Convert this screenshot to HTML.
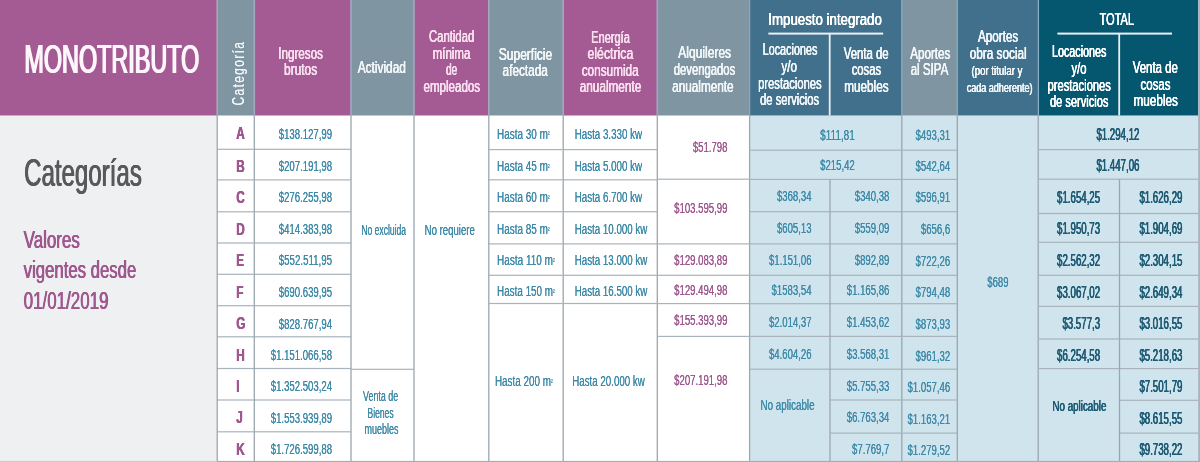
<!DOCTYPE html>
<html lang="es"><head><meta charset="utf-8"><title>Monotributo - Categorías</title>
<style>
html,body{margin:0;padding:0;background:#fff;}
body{width:1200px;height:462px;overflow:hidden;}
svg{display:block;will-change:transform;font-family:"Liberation Sans",sans-serif;}
svg text{white-space:pre;}
</style></head><body>
<svg role="img" aria-label="Monotributo: tabla de categorías" width="1200" height="462" viewBox="0 0 1200 462">
<rect x="0" y="0" width="1200" height="462" fill="#ffffff"/>
<rect x="0" y="115.5" width="217" height="346.5" fill="#eef0f2"/>
<rect x="749.5" y="115.5" width="450.5" height="346.5" fill="#d0e4ed"/>
<rect x="0" y="0" width="217.2" height="115.5" fill="#a45b93"/>
<rect x="217.2" y="0" width="37.1" height="115.5" fill="#7f95a2"/>
<rect x="254.3" y="0" width="96.7" height="115.5" fill="#a45b93"/>
<rect x="351" y="0" width="63" height="115.5" fill="#7f95a2"/>
<rect x="414" y="0" width="74.8" height="115.5" fill="#a45b93"/>
<rect x="488.8" y="0" width="74.4" height="115.5" fill="#7f95a2"/>
<rect x="563.2" y="0" width="94.1" height="115.5" fill="#a45b93"/>
<rect x="657.3" y="0" width="92.3" height="115.5" fill="#7f95a2"/>
<rect x="749.6" y="0" width="152.2" height="115.5" fill="#40708b"/>
<rect x="901.8" y="0" width="55.5" height="115.5" fill="#7f95a2"/>
<rect x="957.3" y="0" width="80.9" height="115.5" fill="#40708b"/>
<rect x="1038.2" y="0" width="160" height="115.5" fill="#05566f"/>
<rect x="216.4" y="0" width="1.6" height="115.5" fill="#a3a7c0"/>
<rect x="253.5" y="0" width="1.6" height="115.5" fill="#a3a7c0"/>
<rect x="350.2" y="0" width="1.6" height="115.5" fill="#a3a7c0"/>
<rect x="413.2" y="0" width="1.6" height="115.5" fill="#a3a7c0"/>
<rect x="488" y="0" width="1.6" height="115.5" fill="#a3a7c0"/>
<rect x="562.4" y="0" width="1.6" height="115.5" fill="#a3a7c0"/>
<rect x="656.5" y="0" width="1.6" height="115.5" fill="#a3a7c0"/>
<rect x="748.95" y="0" width="1.3" height="115.5" fill="#8aa7b8"/>
<rect x="901.15" y="0" width="1.3" height="115.5" fill="#8aa7b8"/>
<rect x="956.65" y="0" width="1.3" height="115.5" fill="#8aa7b8"/>
<rect x="1037.75" y="0" width="1.3" height="115.5" fill="#86afc8"/>
<rect x="1198.2" y="0" width="1.8" height="462" fill="#aab2c0"/>
<rect x="217.2" y="148.7" width="133.8" height="1.2" fill="#a8b3bb"/>
<rect x="217.2" y="179.3" width="133.8" height="1.2" fill="#a8b3bb"/>
<rect x="217.2" y="211.2" width="133.8" height="1.2" fill="#a8b3bb"/>
<rect x="217.2" y="242.4" width="133.8" height="1.2" fill="#a8b3bb"/>
<rect x="217.2" y="273.7" width="133.8" height="1.2" fill="#a8b3bb"/>
<rect x="217.2" y="305.1" width="133.8" height="1.2" fill="#a8b3bb"/>
<rect x="217.2" y="336.2" width="133.8" height="1.2" fill="#a8b3bb"/>
<rect x="217.2" y="367.9" width="133.8" height="1.2" fill="#a8b3bb"/>
<rect x="217.2" y="399.4" width="133.8" height="1.2" fill="#a8b3bb"/>
<rect x="217.2" y="431.2" width="133.8" height="1.2" fill="#a8b3bb"/>
<rect x="216.55" y="115.5" width="1.3" height="346.5" fill="#9ba6ae"/>
<rect x="253.65" y="115.5" width="1.3" height="346.5" fill="#9ba6ae"/>
<rect x="350.35" y="115.5" width="1.3" height="346.5" fill="#9ba6ae"/>
<rect x="413.35" y="115.5" width="1.3" height="346.5" fill="#9ba6ae"/>
<rect x="488.15" y="115.5" width="1.3" height="346.5" fill="#9ba6ae"/>
<rect x="562.55" y="115.5" width="1.3" height="346.5" fill="#9ba6ae"/>
<rect x="656.65" y="115.5" width="1.3" height="346.5" fill="#9ba6ae"/>
<rect x="748.95" y="115.5" width="1.3" height="346.5" fill="#9ba6ae"/>
<rect x="901.15" y="115.5" width="1.3" height="346.5" fill="#9ba6ae"/>
<rect x="956.65" y="115.5" width="1.3" height="346.5" fill="#9ba6ae"/>
<rect x="1037.55" y="115.5" width="1.3" height="346.5" fill="#9ba6ae"/>
<rect x="351" y="368.7" width="63" height="1.2" fill="#a8b3bb"/>
<rect x="488.8" y="149" width="168.5" height="1.2" fill="#a8b3bb"/>
<rect x="488.8" y="179.2" width="168.5" height="1.2" fill="#a8b3bb"/>
<rect x="488.8" y="211.1" width="168.5" height="1.2" fill="#a8b3bb"/>
<rect x="488.8" y="243.3" width="168.5" height="1.2" fill="#a8b3bb"/>
<rect x="488.8" y="274.7" width="168.5" height="1.2" fill="#a8b3bb"/>
<rect x="488.8" y="302.9" width="168.5" height="1.2" fill="#a8b3bb"/>
<rect x="657.3" y="178.6" width="92.3" height="1.2" fill="#a8b3bb"/>
<rect x="657.3" y="243.3" width="92.3" height="1.2" fill="#a8b3bb"/>
<rect x="657.3" y="274.7" width="92.3" height="1.2" fill="#a8b3bb"/>
<rect x="657.3" y="303" width="92.3" height="1.2" fill="#a8b3bb"/>
<rect x="657.3" y="335.8" width="92.3" height="1.2" fill="#a8b3bb"/>
<rect x="749.6" y="149.6" width="207.7" height="1.2" fill="#a8b3bb"/>
<rect x="749.6" y="178.8" width="207.7" height="1.2" fill="#a8b3bb"/>
<rect x="749.6" y="211.1" width="207.7" height="1.2" fill="#a8b3bb"/>
<rect x="749.6" y="243.3" width="207.7" height="1.2" fill="#a8b3bb"/>
<rect x="749.6" y="274.7" width="207.7" height="1.2" fill="#a8b3bb"/>
<rect x="749.6" y="303.1" width="207.7" height="1.2" fill="#a8b3bb"/>
<rect x="749.6" y="335.8" width="207.7" height="1.2" fill="#a8b3bb"/>
<rect x="749.6" y="368.6" width="207.7" height="1.2" fill="#a8b3bb"/>
<rect x="830" y="399.4" width="127.3" height="1.2" fill="#a8b3bb"/>
<rect x="830" y="432.5" width="127.3" height="1.2" fill="#a8b3bb"/>
<rect x="829.35" y="179.4" width="1.3" height="282.6" fill="#9ba6ae"/>
<rect x="1038.2" y="149" width="160" height="1.2" fill="#a8b3bb"/>
<rect x="1038.2" y="178.6" width="160" height="1.2" fill="#a8b3bb"/>
<rect x="1038.2" y="212.9" width="160" height="1.2" fill="#a8b3bb"/>
<rect x="1038.2" y="241.7" width="160" height="1.2" fill="#a8b3bb"/>
<rect x="1038.2" y="274.7" width="160" height="1.2" fill="#a8b3bb"/>
<rect x="1038.2" y="305.8" width="160" height="1.2" fill="#a8b3bb"/>
<rect x="1038.2" y="338.4" width="160" height="1.2" fill="#a8b3bb"/>
<rect x="1038.2" y="368" width="160" height="1.2" fill="#a8b3bb"/>
<rect x="1119.5" y="399.7" width="78.7" height="1.2" fill="#a8b3bb"/>
<rect x="1119.5" y="432.5" width="78.7" height="1.2" fill="#a8b3bb"/>
<rect x="1118.85" y="179.2" width="1.3" height="282.8" fill="#9ba6ae"/>
<rect x="0" y="460.9" width="217" height="1.2" fill="#c9cdd1"/>
<rect x="217" y="460.9" width="983" height="1.2" fill="#a4adb4"/>
<rect x="768.4" y="32.6" width="114.8" height="2" fill="#e9eff3"/>
<rect x="828.8" y="33.5" width="1.8" height="82" fill="#e9eff3"/>
<rect x="1057.4" y="32.6" width="114.6" height="2" fill="#e9eff3"/>
<rect x="1118.3" y="33.5" width="1.8" height="82" fill="#e9eff3"/>
<text x="24.4" y="73.2" font-size="41" fill="#fdf6fb" textLength="174.9" lengthAdjust="spacingAndGlyphs" style="text-shadow:1.25px 0 0 #fdf6fb,-1.25px 0 0 #fdf6fb">MONOTRIBUTO</text>
<text transform="translate(244,105.4) rotate(-90) scale(0.74,1)" font-size="16.2" fill="#f1f5f7" letter-spacing="1.8" style="text-shadow:0 0.3px 0 #f1f5f7">Categoría</text>
<text x="300.6" y="58.8" font-size="16" fill="#f9deef" text-anchor="middle" textLength="44.7" lengthAdjust="spacingAndGlyphs" style="text-shadow:0.3px 0 0 #f9deef,-0.3px 0 0 #f9deef">Ingresos</text>
<text x="300.6" y="75.4" font-size="16" fill="#f9deef" text-anchor="middle" textLength="33.1" lengthAdjust="spacingAndGlyphs" style="text-shadow:0.3px 0 0 #f9deef,-0.3px 0 0 #f9deef">brutos</text>
<text x="381.8" y="73.4" font-size="16" fill="#f1f5f7" text-anchor="middle" textLength="48.2" lengthAdjust="spacingAndGlyphs" style="text-shadow:0.3px 0 0 #f1f5f7,-0.3px 0 0 #f1f5f7">Actividad</text>
<text x="451.6" y="42.0" font-size="16" fill="#f9deef" text-anchor="middle" textLength="45.2" lengthAdjust="spacingAndGlyphs" style="text-shadow:0.3px 0 0 #f9deef,-0.3px 0 0 #f9deef">Cantidad</text>
<text x="451.5" y="58.8" font-size="16" fill="#f9deef" text-anchor="middle" textLength="37.7" lengthAdjust="spacingAndGlyphs" style="text-shadow:0.3px 0 0 #f9deef,-0.3px 0 0 #f9deef">mínima</text>
<text x="451.6" y="75.4" font-size="16" fill="#f9deef" text-anchor="middle" textLength="11.3" lengthAdjust="spacingAndGlyphs" style="text-shadow:0.3px 0 0 #f9deef,-0.3px 0 0 #f9deef">de</text>
<text x="451.8" y="91.7" font-size="16" fill="#f9deef" text-anchor="middle" textLength="56.5" lengthAdjust="spacingAndGlyphs" style="text-shadow:0.3px 0 0 #f9deef,-0.3px 0 0 #f9deef">empleados</text>
<text x="525.5" y="59.6" font-size="16" fill="#f1f5f7" text-anchor="middle" textLength="53.3" lengthAdjust="spacingAndGlyphs" style="text-shadow:0.3px 0 0 #f1f5f7,-0.3px 0 0 #f1f5f7">Superficie</text>
<text x="525.2" y="75.9" font-size="16" fill="#f1f5f7" text-anchor="middle" textLength="45.2" lengthAdjust="spacingAndGlyphs" style="text-shadow:0.3px 0 0 #f1f5f7,-0.3px 0 0 #f1f5f7">afectada</text>
<text x="610.5" y="42.8" font-size="16" fill="#f9deef" text-anchor="middle" textLength="38.7" lengthAdjust="spacingAndGlyphs" style="text-shadow:0.3px 0 0 #f9deef,-0.3px 0 0 #f9deef">Energía</text>
<text x="610.4" y="59.1" font-size="16" fill="#f9deef" text-anchor="middle" textLength="45.7" lengthAdjust="spacingAndGlyphs" style="text-shadow:0.3px 0 0 #f9deef,-0.3px 0 0 #f9deef">eléctrica</text>
<text x="610.2" y="75.9" font-size="16" fill="#f9deef" text-anchor="middle" textLength="57.0" lengthAdjust="spacingAndGlyphs" style="text-shadow:0.3px 0 0 #f9deef,-0.3px 0 0 #f9deef">consumida</text>
<text x="610.5" y="92.2" font-size="16" fill="#f9deef" text-anchor="middle" textLength="61.5" lengthAdjust="spacingAndGlyphs" style="text-shadow:0.3px 0 0 #f9deef,-0.3px 0 0 #f9deef">anualmente</text>
<text x="704.7" y="58.3" font-size="16" fill="#f1f5f7" text-anchor="middle" textLength="52.8" lengthAdjust="spacingAndGlyphs" style="text-shadow:0.3px 0 0 #f1f5f7,-0.3px 0 0 #f1f5f7">Alquileres</text>
<text x="704.5" y="75.2" font-size="16" fill="#f1f5f7" text-anchor="middle" textLength="61.5" lengthAdjust="spacingAndGlyphs" style="text-shadow:0.3px 0 0 #f1f5f7,-0.3px 0 0 #f1f5f7">devengados</text>
<text x="702.9" y="91.5" font-size="16" fill="#f1f5f7" text-anchor="middle" textLength="61.5" lengthAdjust="spacingAndGlyphs" style="text-shadow:0.3px 0 0 #f1f5f7,-0.3px 0 0 #f1f5f7">anualmente</text>
<text x="825.1" y="24.5" font-size="16" fill="#ffffff" text-anchor="middle" textLength="113.5" lengthAdjust="spacingAndGlyphs" style="text-shadow:0.3px 0 0 #ffffff,-0.3px 0 0 #ffffff">Impuesto integrado</text>
<text x="790.0" y="55.3" font-size="16" fill="#f1f5f7" text-anchor="middle" textLength="54.7" lengthAdjust="spacingAndGlyphs" style="text-shadow:0.3px 0 0 #f1f5f7,-0.3px 0 0 #f1f5f7">Locaciones</text>
<text x="789.2" y="71.6" font-size="16" fill="#f1f5f7" text-anchor="middle" textLength="15.6" lengthAdjust="spacingAndGlyphs" style="text-shadow:0.3px 0 0 #f1f5f7,-0.3px 0 0 #f1f5f7">y/o</text>
<text x="789.9" y="88.5" font-size="16" fill="#f1f5f7" text-anchor="middle" textLength="63.5" lengthAdjust="spacingAndGlyphs" style="text-shadow:0.3px 0 0 #f1f5f7,-0.3px 0 0 #f1f5f7">prestaciones</text>
<text x="789.6" y="104.8" font-size="16" fill="#f1f5f7" text-anchor="middle" textLength="59.0" lengthAdjust="spacingAndGlyphs" style="text-shadow:0.3px 0 0 #f1f5f7,-0.3px 0 0 #f1f5f7">de servicios</text>
<text x="866.2" y="58.8" font-size="16" fill="#f1f5f7" text-anchor="middle" textLength="44.9" lengthAdjust="spacingAndGlyphs" style="text-shadow:0.3px 0 0 #f1f5f7,-0.3px 0 0 #f1f5f7">Venta de</text>
<text x="866.4" y="75.4" font-size="16" fill="#f1f5f7" text-anchor="middle" textLength="29.4" lengthAdjust="spacingAndGlyphs" style="text-shadow:0.3px 0 0 #f1f5f7,-0.3px 0 0 #f1f5f7">cosas</text>
<text x="866.4" y="91.7" font-size="16" fill="#f1f5f7" text-anchor="middle" textLength="44.4" lengthAdjust="spacingAndGlyphs" style="text-shadow:0.3px 0 0 #f1f5f7,-0.3px 0 0 #f1f5f7">muebles</text>
<text x="930.3" y="58.8" font-size="16" fill="#f1f5f7" text-anchor="middle" textLength="40.2" lengthAdjust="spacingAndGlyphs" style="text-shadow:0.3px 0 0 #f1f5f7,-0.3px 0 0 #f1f5f7">Aportes</text>
<text x="929.5" y="75.4" font-size="16" fill="#f1f5f7" text-anchor="middle" textLength="37.7" lengthAdjust="spacingAndGlyphs" style="text-shadow:0.3px 0 0 #f1f5f7,-0.3px 0 0 #f1f5f7">al SIPA</text>
<text x="998.1" y="42.0" font-size="16" fill="#f1f5f7" text-anchor="middle" textLength="40.2" lengthAdjust="spacingAndGlyphs" style="text-shadow:0.3px 0 0 #f1f5f7,-0.3px 0 0 #f1f5f7">Aportes</text>
<text x="998.2" y="58.8" font-size="16" fill="#f1f5f7" text-anchor="middle" textLength="57.0" lengthAdjust="spacingAndGlyphs" style="text-shadow:0.3px 0 0 #f1f5f7,-0.3px 0 0 #f1f5f7">obra social</text>
<text x="997.0" y="75.4" font-size="12" fill="#f1f5f7" text-anchor="middle" textLength="50.9" lengthAdjust="spacingAndGlyphs" style="text-shadow:0.3px 0 0 #f1f5f7,-0.3px 0 0 #f1f5f7">(por titular y</text>
<text x="999.6" y="91.5" font-size="12" fill="#f1f5f7" text-anchor="middle" textLength="65.8" lengthAdjust="spacingAndGlyphs" style="text-shadow:0.3px 0 0 #f1f5f7,-0.3px 0 0 #f1f5f7">cada adherente)</text>
<text x="1116.8" y="25.0" font-size="17" fill="#ffffff" text-anchor="middle" textLength="34.4" lengthAdjust="spacingAndGlyphs" style="text-shadow:0.3px 0 0 #ffffff,-0.3px 0 0 #ffffff">TOTAL</text>
<text x="1079.2" y="57.1" font-size="16" fill="#ffffff" text-anchor="middle" textLength="54.5" lengthAdjust="spacingAndGlyphs" style="text-shadow:0.3px 0 0 #ffffff,-0.3px 0 0 #ffffff">Locaciones</text>
<text x="1079.0" y="74.2" font-size="16" fill="#ffffff" text-anchor="middle" textLength="15.0" lengthAdjust="spacingAndGlyphs" style="text-shadow:0.3px 0 0 #ffffff,-0.3px 0 0 #ffffff">y/o</text>
<text x="1079.2" y="90.5" font-size="16" fill="#ffffff" text-anchor="middle" textLength="63.3" lengthAdjust="spacingAndGlyphs" style="text-shadow:0.3px 0 0 #ffffff,-0.3px 0 0 #ffffff">prestaciones</text>
<text x="1079.2" y="106.8" font-size="16" fill="#ffffff" text-anchor="middle" textLength="58.5" lengthAdjust="spacingAndGlyphs" style="text-shadow:0.3px 0 0 #ffffff,-0.3px 0 0 #ffffff">de servicios</text>
<text x="1155.3" y="72.7" font-size="16" fill="#ffffff" text-anchor="middle" textLength="45.2" lengthAdjust="spacingAndGlyphs" style="text-shadow:0.3px 0 0 #ffffff,-0.3px 0 0 #ffffff">Venta de</text>
<text x="1155.5" y="89.7" font-size="16" fill="#ffffff" text-anchor="middle" textLength="29.9" lengthAdjust="spacingAndGlyphs" style="text-shadow:0.3px 0 0 #ffffff,-0.3px 0 0 #ffffff">cosas</text>
<text x="1155.7" y="105.5" font-size="16" fill="#ffffff" text-anchor="middle" textLength="44.4" lengthAdjust="spacingAndGlyphs" style="text-shadow:0.3px 0 0 #ffffff,-0.3px 0 0 #ffffff">muebles</text>
<text x="24.2" y="185.7" font-size="38.4" fill="#58595b" textLength="117.6" lengthAdjust="spacingAndGlyphs" style="text-shadow:0.6px 0 0 #58595b,-0.6px 0 0 #58595b">Categorías</text>
<text x="23.7" y="247.7" font-size="23" fill="#9f588e" textLength="56.1" lengthAdjust="spacingAndGlyphs" style="text-shadow:0.45px 0 0 #9f588e,-0.45px 0 0 #9f588e">Valores</text>
<text x="23.7" y="278.1" font-size="23" fill="#9f588e" textLength="112.6" lengthAdjust="spacingAndGlyphs" style="text-shadow:0.45px 0 0 #9f588e,-0.45px 0 0 #9f588e">vigentes desde</text>
<text x="23.7" y="308.5" font-size="23" fill="#9f588e" textLength="84.8" lengthAdjust="spacingAndGlyphs" style="text-shadow:0.45px 0 0 #9f588e,-0.45px 0 0 #9f588e">01/01/2019</text>
<text x="236.2" y="139.4" font-size="17.3" fill="#9f588e" textLength="8.5" lengthAdjust="spacingAndGlyphs" font-weight="bold" style="text-shadow:0.3px 0 0 #9f588e,-0.3px 0 0 #9f588e">A</text>
<text x="332.0" y="138.6" font-size="15.4" fill="#3e8aa8" text-anchor="end" textLength="53.3" lengthAdjust="spacingAndGlyphs" style="text-shadow:0.2px 0 0 #3e8aa8">$138.127,99</text>
<text x="236.2" y="171.8" font-size="17.3" fill="#9f588e" textLength="8.5" lengthAdjust="spacingAndGlyphs" font-weight="bold" style="text-shadow:0.3px 0 0 #9f588e,-0.3px 0 0 #9f588e">B</text>
<text x="332.0" y="171.0" font-size="15.4" fill="#3e8aa8" text-anchor="end" textLength="53.3" lengthAdjust="spacingAndGlyphs" style="text-shadow:0.2px 0 0 #3e8aa8">$207.191,98</text>
<text x="236.2" y="203.2" font-size="17.3" fill="#9f588e" textLength="8.5" lengthAdjust="spacingAndGlyphs" font-weight="bold" style="text-shadow:0.3px 0 0 #9f588e,-0.3px 0 0 #9f588e">C</text>
<text x="332.0" y="202.4" font-size="15.4" fill="#3e8aa8" text-anchor="end" textLength="53.3" lengthAdjust="spacingAndGlyphs" style="text-shadow:0.2px 0 0 #3e8aa8">$276.255,98</text>
<text x="236.2" y="234.6" font-size="17.3" fill="#9f588e" textLength="8.5" lengthAdjust="spacingAndGlyphs" font-weight="bold" style="text-shadow:0.3px 0 0 #9f588e,-0.3px 0 0 #9f588e">D</text>
<text x="332.0" y="233.8" font-size="15.4" fill="#3e8aa8" text-anchor="end" textLength="53.3" lengthAdjust="spacingAndGlyphs" style="text-shadow:0.2px 0 0 #3e8aa8">$414.383,98</text>
<text x="236.2" y="266.1" font-size="17.3" fill="#9f588e" textLength="7.8" lengthAdjust="spacingAndGlyphs" font-weight="bold" style="text-shadow:0.3px 0 0 #9f588e,-0.3px 0 0 #9f588e">E</text>
<text x="332.0" y="265.3" font-size="15.4" fill="#3e8aa8" text-anchor="end" textLength="53.3" lengthAdjust="spacingAndGlyphs" style="text-shadow:0.2px 0 0 #3e8aa8">$552.511,95</text>
<text x="236.2" y="297.5" font-size="17.3" fill="#9f588e" textLength="7.2" lengthAdjust="spacingAndGlyphs" font-weight="bold" style="text-shadow:0.3px 0 0 #9f588e,-0.3px 0 0 #9f588e">F</text>
<text x="332.0" y="296.7" font-size="15.4" fill="#3e8aa8" text-anchor="end" textLength="53.3" lengthAdjust="spacingAndGlyphs" style="text-shadow:0.2px 0 0 #3e8aa8">$690.639,95</text>
<text x="236.2" y="329.4" font-size="17.3" fill="#9f588e" textLength="9.2" lengthAdjust="spacingAndGlyphs" font-weight="bold" style="text-shadow:0.3px 0 0 #9f588e,-0.3px 0 0 #9f588e">G</text>
<text x="332.0" y="328.6" font-size="15.4" fill="#3e8aa8" text-anchor="end" textLength="53.3" lengthAdjust="spacingAndGlyphs" style="text-shadow:0.2px 0 0 #3e8aa8">$828.767,94</text>
<text x="236.2" y="361.2" font-size="17.3" fill="#9f588e" textLength="8.5" lengthAdjust="spacingAndGlyphs" font-weight="bold" style="text-shadow:0.3px 0 0 #9f588e,-0.3px 0 0 #9f588e">H</text>
<text x="332.0" y="360.4" font-size="15.4" fill="#3e8aa8" text-anchor="end" textLength="61.3" lengthAdjust="spacingAndGlyphs" style="text-shadow:0.2px 0 0 #3e8aa8">$1.151.066,58</text>
<text x="236.2" y="391.9" font-size="17.3" fill="#9f588e" textLength="3.3" lengthAdjust="spacingAndGlyphs" font-weight="bold" style="text-shadow:0.3px 0 0 #9f588e,-0.3px 0 0 #9f588e">I</text>
<text x="332.0" y="391.1" font-size="15.4" fill="#3e8aa8" text-anchor="end" textLength="61.3" lengthAdjust="spacingAndGlyphs" style="text-shadow:0.2px 0 0 #3e8aa8">$1.352.503,24</text>
<text x="236.2" y="423.3" font-size="17.3" fill="#9f588e" textLength="6.5" lengthAdjust="spacingAndGlyphs" font-weight="bold" style="text-shadow:0.3px 0 0 #9f588e,-0.3px 0 0 #9f588e">J</text>
<text x="332.0" y="422.5" font-size="15.4" fill="#3e8aa8" text-anchor="end" textLength="61.3" lengthAdjust="spacingAndGlyphs" style="text-shadow:0.2px 0 0 #3e8aa8">$1.553.939,89</text>
<text x="236.2" y="454.8" font-size="17.3" fill="#9f588e" textLength="8.5" lengthAdjust="spacingAndGlyphs" font-weight="bold" style="text-shadow:0.3px 0 0 #9f588e,-0.3px 0 0 #9f588e">K</text>
<text x="332.0" y="454.0" font-size="15.4" fill="#3e8aa8" text-anchor="end" textLength="61.3" lengthAdjust="spacingAndGlyphs" style="text-shadow:0.2px 0 0 #3e8aa8">$1.726.599,88</text>
<text x="361.3" y="234.6" font-size="15.4" fill="#3e8aa8" textLength="44.7" lengthAdjust="spacingAndGlyphs" style="text-shadow:0.15px 0 0 #3e8aa8">No excluida</text>
<text x="424.6" y="234.6" font-size="15.4" fill="#3e8aa8" textLength="50.2" lengthAdjust="spacingAndGlyphs" style="text-shadow:0.15px 0 0 #3e8aa8">No requiere</text>
<text x="363.0" y="400.7" font-size="15.4" fill="#3e8aa8" textLength="35.2" lengthAdjust="spacingAndGlyphs" style="text-shadow:0.15px 0 0 #3e8aa8">Venta de</text>
<text x="367.5" y="417.5" font-size="15.4" fill="#3e8aa8" textLength="26.1" lengthAdjust="spacingAndGlyphs" style="text-shadow:0.15px 0 0 #3e8aa8">Bienes</text>
<text x="364.5" y="434.4" font-size="15.4" fill="#3e8aa8" textLength="33.9" lengthAdjust="spacingAndGlyphs" style="text-shadow:0.15px 0 0 #3e8aa8">muebles</text>
<text x="497.0" y="138.6" font-size="15.4" fill="#3e8aa8" textLength="52.7" lengthAdjust="spacingAndGlyphs" style="text-shadow:0.15px 0 0 #3e8aa8">Hasta 30 m<tspan font-size="8.5" dy="-1.2">²</tspan></text>
<text x="497.0" y="171.0" font-size="15.4" fill="#3e8aa8" textLength="52.7" lengthAdjust="spacingAndGlyphs" style="text-shadow:0.15px 0 0 #3e8aa8">Hasta 45 m<tspan font-size="8.5" dy="-1.2">²</tspan></text>
<text x="497.0" y="202.4" font-size="15.4" fill="#3e8aa8" textLength="52.7" lengthAdjust="spacingAndGlyphs" style="text-shadow:0.15px 0 0 #3e8aa8">Hasta 60 m<tspan font-size="8.5" dy="-1.2">²</tspan></text>
<text x="497.0" y="233.8" font-size="15.4" fill="#3e8aa8" textLength="52.7" lengthAdjust="spacingAndGlyphs" style="text-shadow:0.15px 0 0 #3e8aa8">Hasta 85 m<tspan font-size="8.5" dy="-1.2">²</tspan></text>
<text x="497.0" y="265.3" font-size="15.4" fill="#3e8aa8" textLength="57.8" lengthAdjust="spacingAndGlyphs" style="text-shadow:0.15px 0 0 #3e8aa8">Hasta 110 m<tspan font-size="8.5" dy="-1.2">²</tspan></text>
<text x="497.0" y="296.1" font-size="15.4" fill="#3e8aa8" textLength="57.8" lengthAdjust="spacingAndGlyphs" style="text-shadow:0.15px 0 0 #3e8aa8">Hasta 150 m<tspan font-size="8.5" dy="-1.2">²</tspan></text>
<text x="494.9" y="386.1" font-size="15.4" fill="#3e8aa8" textLength="57.8" lengthAdjust="spacingAndGlyphs" style="text-shadow:0.15px 0 0 #3e8aa8">Hasta 200 m<tspan font-size="8.5" dy="-1.2">²</tspan></text>
<text x="574.7" y="138.6" font-size="15.4" fill="#3e8aa8" textLength="67.3" lengthAdjust="spacingAndGlyphs" style="text-shadow:0.15px 0 0 #3e8aa8">Hasta 3.330 kw</text>
<text x="574.7" y="171.0" font-size="15.4" fill="#3e8aa8" textLength="67.3" lengthAdjust="spacingAndGlyphs" style="text-shadow:0.15px 0 0 #3e8aa8">Hasta 5.000 kw</text>
<text x="574.7" y="202.4" font-size="15.4" fill="#3e8aa8" textLength="67.3" lengthAdjust="spacingAndGlyphs" style="text-shadow:0.15px 0 0 #3e8aa8">Hasta 6.700 kw</text>
<text x="574.7" y="233.8" font-size="15.4" fill="#3e8aa8" textLength="72.6" lengthAdjust="spacingAndGlyphs" style="text-shadow:0.15px 0 0 #3e8aa8">Hasta 10.000 kw</text>
<text x="574.7" y="265.3" font-size="15.4" fill="#3e8aa8" textLength="72.6" lengthAdjust="spacingAndGlyphs" style="text-shadow:0.15px 0 0 #3e8aa8">Hasta 13.000 kw</text>
<text x="574.7" y="296.1" font-size="15.4" fill="#3e8aa8" textLength="72.6" lengthAdjust="spacingAndGlyphs" style="text-shadow:0.15px 0 0 #3e8aa8">Hasta 16.500 kw</text>
<text x="572.2" y="386.1" font-size="15.4" fill="#3e8aa8" textLength="72.6" lengthAdjust="spacingAndGlyphs" style="text-shadow:0.15px 0 0 #3e8aa8">Hasta 20.000 kw</text>
<text x="727.4" y="151.9" font-size="15.4" fill="#9f588e" text-anchor="end" textLength="34.6" lengthAdjust="spacingAndGlyphs" style="text-shadow:0.2px 0 0 #9f588e">$51.798</text>
<text x="727.4" y="213.4" font-size="15.4" fill="#9f588e" text-anchor="end" textLength="53.3" lengthAdjust="spacingAndGlyphs" style="text-shadow:0.2px 0 0 #9f588e">$103.595,99</text>
<text x="727.4" y="265.3" font-size="15.4" fill="#9f588e" text-anchor="end" textLength="53.3" lengthAdjust="spacingAndGlyphs" style="text-shadow:0.2px 0 0 #9f588e">$129.083,89</text>
<text x="727.4" y="295.4" font-size="15.4" fill="#9f588e" text-anchor="end" textLength="53.3" lengthAdjust="spacingAndGlyphs" style="text-shadow:0.2px 0 0 #9f588e">$129.494,98</text>
<text x="727.4" y="325.4" font-size="15.4" fill="#9f588e" text-anchor="end" textLength="53.3" lengthAdjust="spacingAndGlyphs" style="text-shadow:0.2px 0 0 #9f588e">$155.393,99</text>
<text x="727.4" y="384.6" font-size="15.4" fill="#9f588e" text-anchor="end" textLength="53.3" lengthAdjust="spacingAndGlyphs" style="text-shadow:0.2px 0 0 #9f588e">$207.191,98</text>
<text x="854.7" y="139.6" font-size="15.4" fill="#3e8aa8" text-anchor="end" textLength="34.6" lengthAdjust="spacingAndGlyphs" style="text-shadow:0.2px 0 0 #3e8aa8">$111,81</text>
<text x="854.7" y="170.3" font-size="15.4" fill="#3e8aa8" text-anchor="end" textLength="34.6" lengthAdjust="spacingAndGlyphs" style="text-shadow:0.2px 0 0 #3e8aa8">$215,42</text>
<text x="811.5" y="200.6" font-size="15.4" fill="#3e8aa8" text-anchor="end" textLength="34.6" lengthAdjust="spacingAndGlyphs" style="text-shadow:0.2px 0 0 #3e8aa8">$368,34</text>
<text x="811.5" y="232.7" font-size="15.4" fill="#3e8aa8" text-anchor="end" textLength="34.6" lengthAdjust="spacingAndGlyphs" style="text-shadow:0.2px 0 0 #3e8aa8">$605,13</text>
<text x="811.5" y="264.6" font-size="15.4" fill="#3e8aa8" text-anchor="end" textLength="42.6" lengthAdjust="spacingAndGlyphs" style="text-shadow:0.2px 0 0 #3e8aa8">$1.151,06</text>
<text x="811.5" y="295.4" font-size="15.4" fill="#3e8aa8" text-anchor="end" textLength="40.0" lengthAdjust="spacingAndGlyphs" style="text-shadow:0.2px 0 0 #3e8aa8">$1583,54</text>
<text x="811.5" y="326.9" font-size="15.4" fill="#3e8aa8" text-anchor="end" textLength="42.6" lengthAdjust="spacingAndGlyphs" style="text-shadow:0.2px 0 0 #3e8aa8">$2.014,37</text>
<text x="811.5" y="358.8" font-size="15.4" fill="#3e8aa8" text-anchor="end" textLength="42.6" lengthAdjust="spacingAndGlyphs" style="text-shadow:0.2px 0 0 #3e8aa8">$4.604,26</text>
<text x="889.3" y="200.6" font-size="15.4" fill="#3e8aa8" text-anchor="end" textLength="34.6" lengthAdjust="spacingAndGlyphs" style="text-shadow:0.2px 0 0 #3e8aa8">$340,38</text>
<text x="889.3" y="232.7" font-size="15.4" fill="#3e8aa8" text-anchor="end" textLength="34.6" lengthAdjust="spacingAndGlyphs" style="text-shadow:0.2px 0 0 #3e8aa8">$559,09</text>
<text x="889.3" y="264.6" font-size="15.4" fill="#3e8aa8" text-anchor="end" textLength="34.6" lengthAdjust="spacingAndGlyphs" style="text-shadow:0.2px 0 0 #3e8aa8">$892,89</text>
<text x="889.3" y="295.4" font-size="15.4" fill="#3e8aa8" text-anchor="end" textLength="42.6" lengthAdjust="spacingAndGlyphs" style="text-shadow:0.2px 0 0 #3e8aa8">$1.165,86</text>
<text x="889.3" y="326.9" font-size="15.4" fill="#3e8aa8" text-anchor="end" textLength="42.6" lengthAdjust="spacingAndGlyphs" style="text-shadow:0.2px 0 0 #3e8aa8">$1.453,62</text>
<text x="889.3" y="358.8" font-size="15.4" fill="#3e8aa8" text-anchor="end" textLength="42.6" lengthAdjust="spacingAndGlyphs" style="text-shadow:0.2px 0 0 #3e8aa8">$3.568,31</text>
<text x="889.3" y="390.5" font-size="15.4" fill="#3e8aa8" text-anchor="end" textLength="42.6" lengthAdjust="spacingAndGlyphs" style="text-shadow:0.2px 0 0 #3e8aa8">$5.755,33</text>
<text x="889.3" y="422.1" font-size="15.4" fill="#3e8aa8" text-anchor="end" textLength="42.6" lengthAdjust="spacingAndGlyphs" style="text-shadow:0.2px 0 0 #3e8aa8">$6.763,34</text>
<text x="889.3" y="453.5" font-size="15.4" fill="#3e8aa8" text-anchor="end" textLength="37.3" lengthAdjust="spacingAndGlyphs" style="text-shadow:0.2px 0 0 #3e8aa8">$7.769,7</text>
<text x="760.5" y="410.1" font-size="15.4" fill="#3e8aa8" textLength="54.0" lengthAdjust="spacingAndGlyphs" style="text-shadow:0.15px 0 0 #3e8aa8">No aplicable</text>
<text x="950.1" y="139.7" font-size="15.4" fill="#3e8aa8" text-anchor="end" textLength="34.6" lengthAdjust="spacingAndGlyphs" style="text-shadow:0.2px 0 0 #3e8aa8">$493,31</text>
<text x="950.1" y="171.1" font-size="15.4" fill="#3e8aa8" text-anchor="end" textLength="34.6" lengthAdjust="spacingAndGlyphs" style="text-shadow:0.2px 0 0 #3e8aa8">$542,64</text>
<text x="950.1" y="202.4" font-size="15.4" fill="#3e8aa8" text-anchor="end" textLength="34.6" lengthAdjust="spacingAndGlyphs" style="text-shadow:0.2px 0 0 #3e8aa8">$596,91</text>
<text x="950.1" y="234.4" font-size="15.4" fill="#3e8aa8" text-anchor="end" textLength="29.3" lengthAdjust="spacingAndGlyphs" style="text-shadow:0.2px 0 0 #3e8aa8">$656,6</text>
<text x="950.1" y="266.0" font-size="15.4" fill="#3e8aa8" text-anchor="end" textLength="34.6" lengthAdjust="spacingAndGlyphs" style="text-shadow:0.2px 0 0 #3e8aa8">$722,26</text>
<text x="950.1" y="297.2" font-size="15.4" fill="#3e8aa8" text-anchor="end" textLength="34.6" lengthAdjust="spacingAndGlyphs" style="text-shadow:0.2px 0 0 #3e8aa8">$794,48</text>
<text x="950.1" y="328.6" font-size="15.4" fill="#3e8aa8" text-anchor="end" textLength="34.6" lengthAdjust="spacingAndGlyphs" style="text-shadow:0.2px 0 0 #3e8aa8">$873,93</text>
<text x="950.1" y="360.7" font-size="15.4" fill="#3e8aa8" text-anchor="end" textLength="34.6" lengthAdjust="spacingAndGlyphs" style="text-shadow:0.2px 0 0 #3e8aa8">$961,32</text>
<text x="950.1" y="392.0" font-size="15.4" fill="#3e8aa8" text-anchor="end" textLength="42.6" lengthAdjust="spacingAndGlyphs" style="text-shadow:0.2px 0 0 #3e8aa8">$1.057,46</text>
<text x="950.1" y="423.9" font-size="15.4" fill="#3e8aa8" text-anchor="end" textLength="42.6" lengthAdjust="spacingAndGlyphs" style="text-shadow:0.2px 0 0 #3e8aa8">$1.163,21</text>
<text x="950.1" y="454.7" font-size="15.4" fill="#3e8aa8" text-anchor="end" textLength="42.6" lengthAdjust="spacingAndGlyphs" style="text-shadow:0.2px 0 0 #3e8aa8">$1.279,52</text>
<text x="1008.5" y="287.4" font-size="15.4" fill="#3e8aa8" text-anchor="end" textLength="21.3" lengthAdjust="spacingAndGlyphs" style="text-shadow:0.2px 0 0 #3e8aa8">$689</text>
<text x="1139.4" y="140.1" font-size="15.8" fill="#1d5b75" text-anchor="end" textLength="43.0" lengthAdjust="spacingAndGlyphs" style="text-shadow:0.4px 0 0 #1d5b75,-0.4px 0 0 #1d5b75">$1.294,12</text>
<text x="1139.4" y="170.8" font-size="15.8" fill="#1d5b75" text-anchor="end" textLength="43.0" lengthAdjust="spacingAndGlyphs" style="text-shadow:0.4px 0 0 #1d5b75,-0.4px 0 0 #1d5b75">$1.447,06</text>
<text x="1100.1" y="203.4" font-size="15.8" fill="#1d5b75" text-anchor="end" textLength="43.0" lengthAdjust="spacingAndGlyphs" style="text-shadow:0.4px 0 0 #1d5b75,-0.4px 0 0 #1d5b75">$1.654,25</text>
<text x="1100.1" y="234.3" font-size="15.8" fill="#1d5b75" text-anchor="end" textLength="43.0" lengthAdjust="spacingAndGlyphs" style="text-shadow:0.4px 0 0 #1d5b75,-0.4px 0 0 #1d5b75">$1.950,73</text>
<text x="1100.1" y="266.4" font-size="15.8" fill="#1d5b75" text-anchor="end" textLength="43.0" lengthAdjust="spacingAndGlyphs" style="text-shadow:0.4px 0 0 #1d5b75,-0.4px 0 0 #1d5b75">$2.562,32</text>
<text x="1100.1" y="297.6" font-size="15.8" fill="#1d5b75" text-anchor="end" textLength="43.0" lengthAdjust="spacingAndGlyphs" style="text-shadow:0.4px 0 0 #1d5b75,-0.4px 0 0 #1d5b75">$3.067,02</text>
<text x="1100.1" y="329.0" font-size="15.8" fill="#1d5b75" text-anchor="end" textLength="37.7" lengthAdjust="spacingAndGlyphs" style="text-shadow:0.4px 0 0 #1d5b75,-0.4px 0 0 #1d5b75">$3.577,3</text>
<text x="1100.1" y="361.1" font-size="15.8" fill="#1d5b75" text-anchor="end" textLength="43.0" lengthAdjust="spacingAndGlyphs" style="text-shadow:0.4px 0 0 #1d5b75,-0.4px 0 0 #1d5b75">$6.254,58</text>
<text x="1182.4" y="203.4" font-size="15.8" fill="#1d5b75" text-anchor="end" textLength="43.0" lengthAdjust="spacingAndGlyphs" style="text-shadow:0.4px 0 0 #1d5b75,-0.4px 0 0 #1d5b75">$1.626,29</text>
<text x="1182.4" y="234.3" font-size="15.8" fill="#1d5b75" text-anchor="end" textLength="43.0" lengthAdjust="spacingAndGlyphs" style="text-shadow:0.4px 0 0 #1d5b75,-0.4px 0 0 #1d5b75">$1.904,69</text>
<text x="1182.4" y="266.4" font-size="15.8" fill="#1d5b75" text-anchor="end" textLength="43.0" lengthAdjust="spacingAndGlyphs" style="text-shadow:0.4px 0 0 #1d5b75,-0.4px 0 0 #1d5b75">$2.304,15</text>
<text x="1182.4" y="297.6" font-size="15.8" fill="#1d5b75" text-anchor="end" textLength="43.0" lengthAdjust="spacingAndGlyphs" style="text-shadow:0.4px 0 0 #1d5b75,-0.4px 0 0 #1d5b75">$2.649,34</text>
<text x="1182.4" y="329.0" font-size="15.8" fill="#1d5b75" text-anchor="end" textLength="43.0" lengthAdjust="spacingAndGlyphs" style="text-shadow:0.4px 0 0 #1d5b75,-0.4px 0 0 #1d5b75">$3.016,55</text>
<text x="1182.4" y="361.1" font-size="15.8" fill="#1d5b75" text-anchor="end" textLength="43.0" lengthAdjust="spacingAndGlyphs" style="text-shadow:0.4px 0 0 #1d5b75,-0.4px 0 0 #1d5b75">$5.218,63</text>
<text x="1182.4" y="392.3" font-size="15.8" fill="#1d5b75" text-anchor="end" textLength="43.0" lengthAdjust="spacingAndGlyphs" style="text-shadow:0.4px 0 0 #1d5b75,-0.4px 0 0 #1d5b75">$7.501,79</text>
<text x="1182.4" y="424.3" font-size="15.8" fill="#1d5b75" text-anchor="end" textLength="43.0" lengthAdjust="spacingAndGlyphs" style="text-shadow:0.4px 0 0 #1d5b75,-0.4px 0 0 #1d5b75">$8.615,55</text>
<text x="1182.4" y="454.5" font-size="15.8" fill="#1d5b75" text-anchor="end" textLength="43.0" lengthAdjust="spacingAndGlyphs" style="text-shadow:0.4px 0 0 #1d5b75,-0.4px 0 0 #1d5b75">$9.738,22</text>
<text x="1052.4" y="410.9" font-size="15.4" fill="#1d5b75" textLength="54.0" lengthAdjust="spacingAndGlyphs" style="text-shadow:0.35px 0 0 #1d5b75,-0.35px 0 0 #1d5b75">No aplicable</text>
</svg>
</body></html>
